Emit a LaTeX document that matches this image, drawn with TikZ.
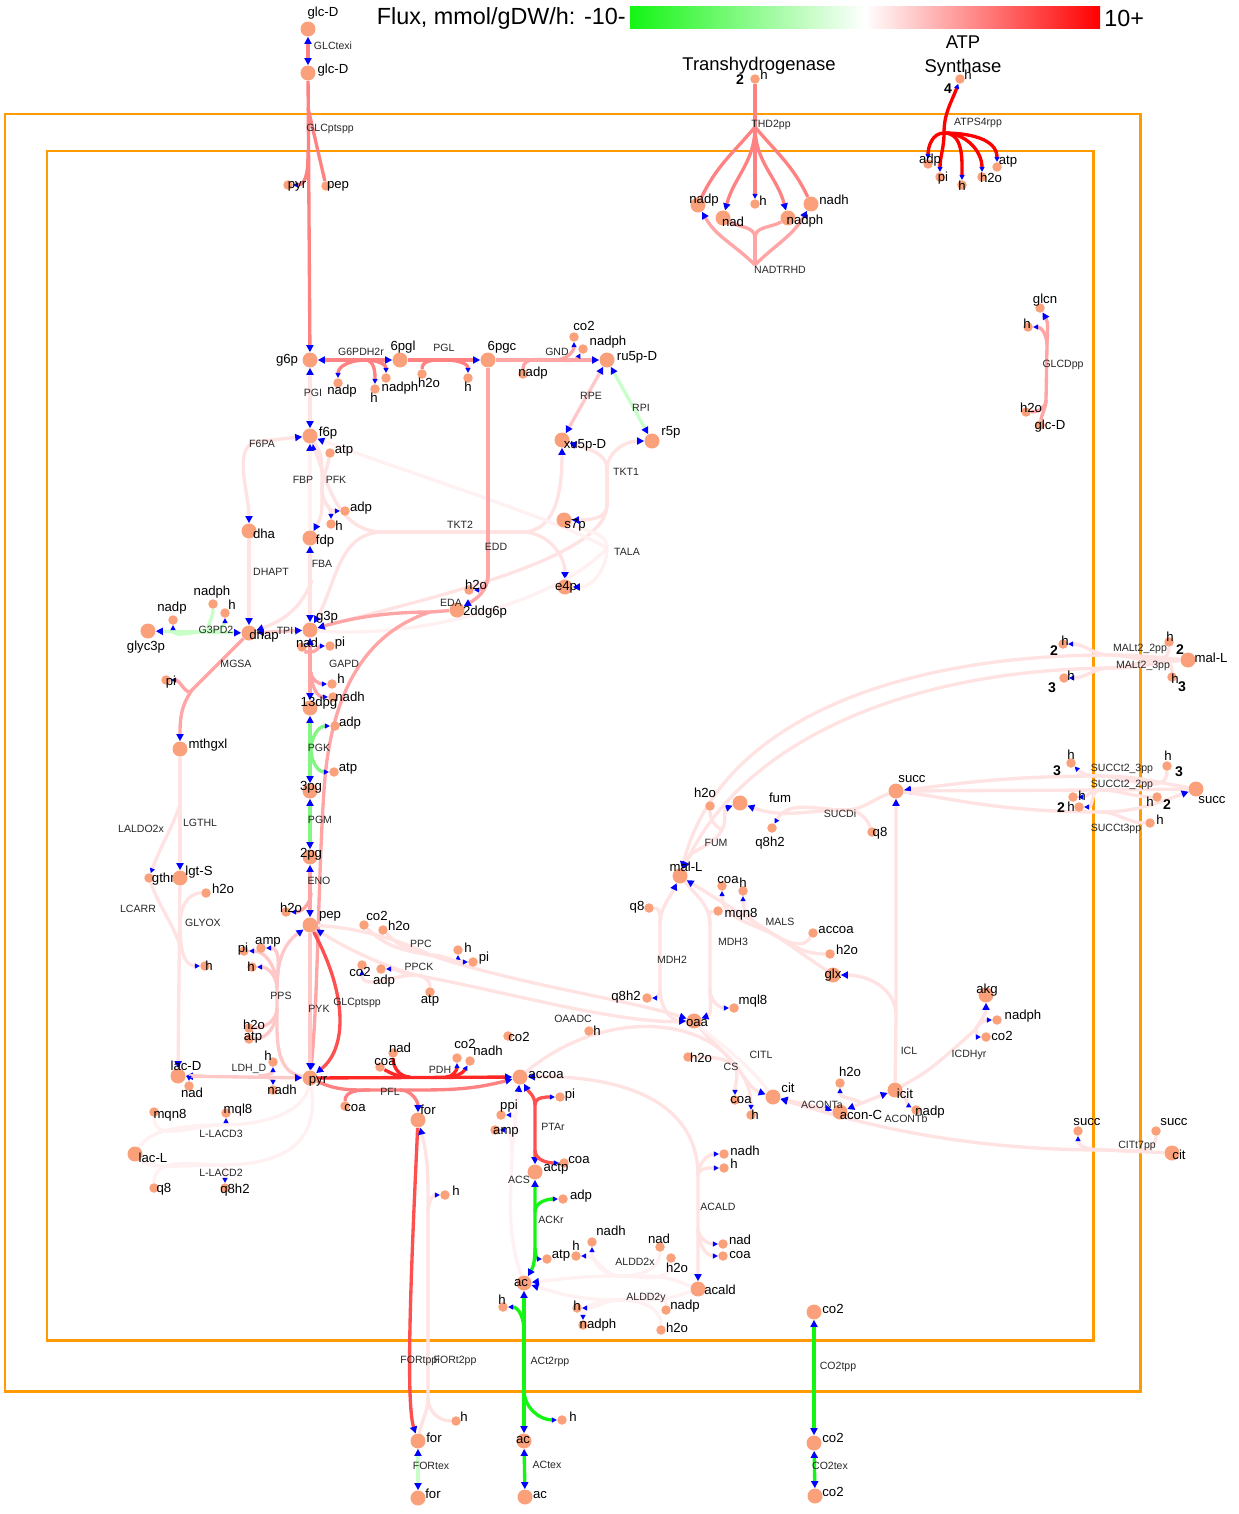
\documentclass[tikz,border=0pt]{standalone}
\usepackage{fontspec}
\setmainfont{Liberation Sans}
\usetikzlibrary{arrows.meta}

\definecolor{metc}{RGB}{250,160,122}
\definecolor{boxc}{RGB}{255,155,0}
\definecolor{fxA}{RGB}{255,0,0}
\definecolor{fxB}{RGB}{255,80,80}
\definecolor{fxC}{RGB}{255,130,130}
\definecolor{fxD}{RGB}{255,165,165}
\definecolor{fxE}{RGB}{255,200,200}
\definecolor{fxF}{RGB}{255,226,226}
\definecolor{fxG}{RGB}{255,241,241}
\definecolor{gxA}{RGB}{20,245,20}
\definecolor{gxB}{RGB}{130,245,130}
\definecolor{gxC}{RGB}{200,255,200}

\pgfdeclarelayer{boxes}
\pgfdeclarelayer{edges}
\pgfsetlayers{boxes,edges,main}

\tikzset{
  bigm/.style={circle,fill=metc,inner sep=0pt,minimum size=0.3cm},
  smallm/.style={circle,fill=metc,inner sep=0pt,minimum size=0.19cm},
  mlab/.style={inner sep=0pt,font=\fontsize{7.5}{8}\selectfont},
  rlab/.style={inner sep=0pt,text=black!85,font=\fontsize{6}{7}\selectfont},
  stoi/.style={inner sep=0pt,font=\fontsize{8}{9}\selectfont\bfseries},
  rx/.style={line width=1.9pt},
  sa/.style={-{Triangle[color=blue,length=2.8pt,width=2.8pt]}},
  >={Triangle[color=blue,length=4pt,width=4pt]},
}

% metabolite: name, circle position, text position, text
\newcommand{\bigmet}[4]{\node[bigm] (#1) at (#2) {}; \node[mlab] (#1-t) at (#3) {#4};}
\newcommand{\smet}[4]{\node[smallm] (#1) at (#2) {}; \node[mlab] (#1-t) at (#3) {#4};}
\newcommand{\rxnlab}[3]{\node[rlab] (r-#1) at (#2) {#3};}

\begin{document}
\begin{tikzpicture}[x=0.02cm,y=0.02cm]
    \useasboundingbox (0,0) rectangle (1239,-1514);
    % colour scale and titles
        \shade[left color=gxA,right color=fxA,middle color=white] (630,-7) rectangle (1100,-29);
        \node[anchor=east,inner sep=0pt,font=\fontsize{13.3}{15}\selectfont] (scale-lo) at (626,-18) {Flux, mmol/gDW/h: -10-};
        \node[anchor=west,inner sep=0pt,font=\fontsize{13.3}{15}\selectfont] (scale-hi) at (1104,-18) {10+};
        \node[inner sep=0pt,font=\fontsize{10.5}{12}\selectfont] (thd-title) at (759,-66) {Transhydrogenase};
        \node[inner sep=0pt,align=center,font=\fontsize{10.5}{13.6}\selectfont] (atp-title) at (963,-56) {ATP\\Synthase};
    % compartments
    \begin{pgfonlayer}{boxes}
        \draw[boxc,line width=1.7pt] (5,-114) rectangle (1140,-1391);
        \draw[boxc,line width=1.7pt] (47,-151) rectangle (1093,-1340);
    \end{pgfonlayer}

    % Below nodes are the metabolites.
        \bigmet{glce}{308,-29}{323,-13}{glc-D}
        \bigmet{glcp}{308,-73}{333,-70}{glc-D}
        \smet{pyrA}{288,-185}{297,-186}{pyr}
        \smet{pepA}{326,-186}{338,-186}{pep}
        \bigmet{g6p}{310,-360}{287,-360}{g6p}
        \smet{nadpA}{338,-383}{342,-391}{nadp}
        \smet{hA}{375,-389}{374,-398}{h}
        \smet{nadphA}{386,-378}{400,-388}{nadph}
        \bigmet{pgl}{400,-360}{403,-347}{6pgl}
        \smet{h2oA}{422,-374}{429,-383}{h2o}
        \smet{hB}{468,-378}{468,-387}{h}
        \bigmet{pgc}{488,-360}{502,-347}{6pgc}
        \smet{nadpB}{523,-374}{533,-373}{nadp}
        \smet{co2A}{574,-337}{584,-326}{co2}
        \smet{nadphB}{583,-349}{608,-342}{nadph}
        \bigmet{ru5p}{607,-360}{637,-357}{ru5p-D}
        \bigmet{xu5p}{562,-440}{585,-445}{xu5p-D}
        \bigmet{r5p}{652,-441}{671,-432}{r5p}
        \bigmet{s7p}{564,-520}{575,-525}{s7p}
        \bigmet{e4p}{565,-587}{566,-587}{e4p}
        \bigmet{f6p}{310,-436}{328,-433}{f6p}
        \smet{atpA}{330,-453}{344,-451}{atp}
        \smet{adpA}{345,-511}{361,-508}{adp}
        \smet{hC}{331,-524}{339,-526}{h}
        \bigmet{fdp}{310,-538}{325,-541}{fdp}
        \bigmet{dha}{249,-531}{264,-534}{dha}
        \bigmet{g3p}{310,-630}{327,-617}{g3p}
        \bigmet{dhap}{249,-633}{264,-636}{dhap}
        \smet{h2oB}{469,-590}{476,-585}{h2o}
        \bigmet{kdpg}{457,-610}{485,-612}{2ddg6p}
        \bigmet{glyc3p}{148,-631}{146,-647}{glyc3p}
        \smet{nadpC}{173,-620}{172,-608}{nadp}
        \smet{nadphC}{213,-604}{212,-592}{nadph}
        \smet{hD}{225,-613}{232,-605}{h}
        \smet{piA}{166,-680}{171,-682}{pi}
        \bigmet{mthgxl}{180,-749}{208,-745}{mthgxl}
        \smet{nadA}{302,-647}{307,-643}{nad}
        \smet{piB}{330,-646}{340,-643}{pi}
        \smet{hE}{332,-684}{341,-679}{h}
        \smet{nadhA}{333,-697}{350,-697}{nadh}
        \bigmet{dpg13}{310,-708}{319,-703}{13dpg}
        \smet{adpB}{335,-726}{350,-723}{adp}
        \smet{atpB}{334,-772}{348,-769}{atp}
        \bigmet{pg3}{310,-791}{311,-787}{3pg}
        \bigmet{pg2}{310,-857}{311,-854}{2pg}
        \smet{h2oC}{286,-912}{291,-908}{h2o}
        \bigmet{pep}{310,-925}{330,-916}{pep}
        \smet{co2B}{364,-925}{377,-916}{co2}
        \smet{h2oD}{383,-930}{399,-926}{h2o}
        \smet{hF}{458,-950}{468,-948}{h}
        \smet{piC}{473,-962}{484,-958}{pi}
        \smet{co2C}{362,-965}{360,-972}{co2}
        \smet{adpC}{381,-969}{384,-981}{adp}
        \smet{atpC}{430,-992}{430,-1001}{atp}
        \smet{piD}{244,-951}{243,-949}{pi}
        \smet{ampA}{261,-948}{268,-942}{amp}
        \smet{hG}{252,-967}{251,-967}{h}
        \smet{h2oE}{249,-1028}{254,-1025}{h2o}
        \smet{atpD}{249,-1039}{253,-1038}{atp}
        \bigmet{pyr}{310,-1078}{318,-1081}{pyr}
        \smet{hH}{273,-1062}{268,-1056}{h}
        \smet{nadB}{189,-1086}{192,-1093}{nad}
        \smet{nadhB}{273,-1090}{282,-1090}{nadh}
        \bigmet{lacD}{178,-1076}{186,-1066}{lac-D}
        \smet{gthrd}{149,-878}{167,-879}{gthrd}
        \bigmet{lgt}{180,-878}{199,-872}{lgt-S}
        \smet{h2oF}{206,-893}{223,-889}{h2o}
        \smet{hI}{205,-966}{209,-966}{h}
        \smet{mqn8A}{154,-1112}{170,-1115}{mqn8}
        \smet{mql8A}{226,-1113}{238,-1110}{mql8}
        \bigmet{lacL}{135,-1154}{153,-1158}{lac-L}
        \smet{q8A}{154,-1188}{164,-1189}{q8}
        \smet{q8h2A}{225,-1188}{235,-1190}{q8h2}
        \smet{nadC}{393,-1053}{400,-1048}{nad}
        \smet{coaA}{380,-1067}{385,-1062}{coa}
        \smet{co2D}{457,-1058}{465,-1044}{co2}
        \smet{nadhC}{470,-1061}{488,-1051}{nadh}
        \smet{coaB}{345,-1106}{355,-1108}{coa}
        \bigmet{for}{418,-1120}{428,-1110}{for}
        \bigmet{accoa}{520,-1077}{546,-1075}{accoa}
        \smet{co2E}{508,-1036}{519,-1037}{co2}
        \smet{hJ}{589,-1031}{597,-1031}{h}
        \smet{ppi}{501,-1115}{509,-1106}{ppi}
        \smet{ampB}{495,-1130}{506,-1132}{amp}
        \smet{piE}{560,-1097}{570,-1095}{pi}
        \smet{coaC}{564,-1163}{579,-1160}{coa}
        \bigmet{actp}{535,-1172}{556,-1169}{actp}
        \smet{adpD}{563,-1199}{581,-1196}{adp}
        \smet{atpE}{547,-1259}{561,-1256}{atp}
        \bigmet{ac}{524,-1283}{521,-1283}{ac}
        \smet{hK}{503,-1307}{502,-1300}{h}
        \smet{hL}{562,-1420}{573,-1417}{h}
        \bigmet{acp}{524,-1441}{523,-1440}{ac}
        \bigmet{ace}{525,-1497}{540,-1495}{ac}
        \smet{nadhD}{592,-1242}{611,-1231}{nadh}
        \smet{hM}{576,-1256}{576,-1246}{h}
        \smet{nadD}{660,-1247}{659,-1239}{nad}
        \smet{h2oG}{671,-1258}{677,-1268}{h2o}
        \smet{hN}{577,-1308}{577,-1306}{h}
        \smet{nadphD}{583,-1325}{598,-1325}{nadph}
        \smet{nadpD}{666,-1310}{685,-1306}{nadp}
        \smet{h2oH}{661,-1330}{677,-1328}{h2o}
        \bigmet{acald}{698,-1289}{720,-1290}{acald}
        \smet{nadhE}{724,-1154}{745,-1151}{nadh}
        \smet{hO}{724,-1168}{734,-1164}{h}
        \smet{nadE}{723,-1244}{740,-1240}{nad}
        \smet{coaD}{723,-1256}{740,-1255}{coa}
        \bigmet{co2c}{814,-1312}{833,-1309}{co2}
        \bigmet{co2p}{814,-1443}{833,-1438}{co2}
        \bigmet{co2e}{815,-1496}{833,-1492}{co2}
        \bigmet{forp}{418,-1441}{434,-1438}{for}
        \bigmet{fore}{418,-1498}{433,-1494}{for}
        \smet{hP}{456,-1421}{464,-1417}{h}
        \smet{hQ}{445,-1195}{456,-1191}{h}
        % TCA cycle
        \bigmet{oaa}{694,-1021}{697,-1023}{oaa}
        \smet{q8B}{649,-908}{637,-907}{q8}
        \smet{q8h2B}{647,-998}{626,-997}{q8h2}
        \smet{mqn8B}{718,-911}{741,-914}{mqn8}
        \smet{mql8B}{734,-1008}{753,-1001}{mql8}
        \bigmet{mal}{680,-876}{686,-867}{mal-L}
        \smet{coaE}{722,-886}{728,-880}{coa}
        \smet{hR}{743,-891}{743,-883}{h}
        \smet{accoaB}{813,-933}{836,-930}{accoa}
        \smet{h2oI}{830,-954}{847,-950}{h2o}
        \bigmet{glx}{833,-975}{833,-975}{glx}
        \smet{h2oJ}{710,-806}{705,-793}{h2o}
        \bigmet{fum}{740,-803}{780,-798}{fum}
        \smet{q8C}{872,-832}{880,-833}{q8}
        \smet{q8h2C}{772,-828}{770,-843}{q8h2}
        \bigmet{succ}{896,-791}{912,-779}{succ}
        \smet{h2oK}{688,-1057}{701,-1058}{h2o}
        \smet{coaF}{735,-1100}{741,-1100}{coa}
        \smet{hS}{751,-1115}{755,-1115}{h}
        \bigmet{cit}{773,-1097}{788,-1088}{cit}
        \smet{h2oL}{840,-1083}{850,-1072}{h2o}
        \bigmet{acon}{840,-1112}{861,-1115}{acon-C}
        \bigmet{icit}{895,-1090}{905,-1094}{icit}
        \smet{nadpE}{916,-1110}{930,-1112}{nadp}
        \smet{nadphE}{997,-1020}{1023,-1016}{nadph}
        \smet{co2F}{986,-1037}{1002,-1036}{co2}
        \bigmet{akg}{986,-995}{987,-990}{akg}
        % transport, right side
        \bigmet{male}{1188,-660}{1211,-658}{mal-L}
        \smet{hT}{1063,-644}{1065,-641}{h}
        \smet{hU}{1064,-678}{1071,-676}{h}
        \smet{hV}{1169,-642}{1170,-637}{h}
        \smet{hW}{1172,-677}{1175,-679}{h}
        \bigmet{succp}{1196,-789}{1212,-800}{succ}
        \smet{hX}{1071,-763}{1071,-755}{h}
        \smet{hY}{1073,-797}{1082,-796}{h}
        \smet{hZ}{1079,-807}{1071,-807}{h}
        \smet{hAA}{1157,-797}{1150,-802}{h}
        \smet{hAB}{1150,-823}{1160,-820}{h}
        \smet{hAC}{1167,-766}{1168,-756}{h}
        \bigmet{citp}{1172,-1153}{1179,-1155}{cit}
        \smet{succA}{1078,-1131}{1087,-1122}{succ}
        \smet{succB}{1156,-1131}{1174,-1122}{succ}
        \smet{glcn}{1040,-308}{1045,-300}{glcn}
        \smet{hGA}{1028,-327}{1027,-324}{h}
        \smet{h2oGA}{1026,-412}{1031,-408}{h2o}
        \smet{glcDp2}{1040,-425}{1050,-426}{glc-D}
        % transhydrogenase and ATP synthase
        \smet{hTH}{755,-79}{764,-75}{h}
        \bigmet{nadpT}{698,-205}{704,-200}{nadp}
        \bigmet{nadT}{723,-218}{733,-222}{nad}
        \smet{hTc}{755,-204}{763,-201}{h}
        \bigmet{nadphT}{788,-218}{805,-221}{nadph}
        \bigmet{nadhT}{811,-204}{834,-200}{nadh}
        \smet{hAS}{960,-79}{968,-75}{h}
        \smet{adpS}{928,-164}{930,-160}{adp}
        \smet{piS}{940,-177}{943,-178}{pi}
        \smet{hSc}{962,-185}{962,-186}{h}
        \smet{h2oS}{982,-177}{991,-178}{h2o}
        \smet{atpS}{997,-167}{1008,-162}{atp}

    % This draws the reactions.
    \begin{pgfonlayer}{edges}
        % exchange and PTS
        \draw[rx,fxC,<->] (glce) -- (glcp);
        \coordinate (ptsA) at (308,-108);
        \coordinate (ptsB) at (308,-150);
        \draw[rx,fxC,->] (glcp) -- (g6p);
        \draw[rx,fxC] (ptsA) -- (pepA);
        \draw[rx,fxC,sa] (ptsB) to[out=-90,in=0] (pyrA);
        % oxidative pentose phosphate
        \draw[rx,fxC,<->] (g6p) -- (pgl);
        \coordinate (g6pdh) at (365,-360);
        \draw[rx,fxC,sa] (g6pdh) to[out=180,in=90] (nadpA);
        \draw[rx,fxC,sa] (g6pdh) to[out=0,in=90] (hA);
        \draw[rx,fxC,sa] (g6pdh) to[out=0,in=90] (nadphA);
        \draw[rx,fxC,->] (pgl) -- (pgc);
        \coordinate (pglh) at (445,-360);
        \draw[rx,fxC] (pglh) to[out=180,in=90] (h2oA);
        \draw[rx,fxC,sa] (pglh) to[out=0,in=90] (hB);
        \draw[rx,fxD,->] (pgc) -- (ru5p);
        \coordinate (gnd) at (555,-360);
        \draw[rx,fxD] (gnd) to[out=180,in=90] (nadpB);
        \draw[rx,fxD,sa] (gnd) to[out=0,in=-90] (co2A);
        \draw[rx,fxD,sa] (gnd) to[out=0,in=-120] (nadphB);
        \draw[rx,fxE,<->] (ru5p) -- (xu5p);
        \draw[rx,gxC,<->] (ru5p) -- (r5p);
        % non-oxidative pentose phosphate
        \coordinate (tktA) at (607,-470);
        \coordinate (tktB) at (607,-505);
        \draw[rx,fxF,->] (tktA) to[out=90,in=180] (r5p);
        \draw[rx,fxF,->] (tktA) to[out=90,in=-20] (xu5p);
        \draw[rx,fxF] (tktA) -- (tktB);
        \draw[rx,fxF,->] (tktB) to[out=-90,in=0] (s7p);
        \draw[rx,fxF,->] (tktB) .. controls (607,-560) and (420,-600) .. (g3p);
        \coordinate (tktC) at (383,-532);
        \coordinate (tktD) at (522,-532);
        \draw[rx,fxF] (tktC) -- (tktD);
        \draw[rx,fxF,->] (tktD) to[out=0,in=-90] (xu5p);
        \draw[rx,fxF,->] (tktD) to[out=0,in=90] (e4p);
        \draw[rx,fxF,->] (tktC) to[out=180,in=-70] (f6p);
        \draw[rx,fxF,->] (tktC) to[out=180,in=60] (g3p);
        \coordinate (tala) at (607,-548);
        \draw[rx,fxG,->] (tala) to[out=-90,in=0] (e4p);
        \draw[rx,fxG] (tala) to[out=90,in=-30] (s7p);
        \draw[rx,fxG,->] (tala) .. controls (560,-520) and (400,-470) .. (f6p);
        \draw[rx,fxG] (tala) .. controls (560,-600) and (420,-640) .. (g3p);
        % Entner-Doudoroff
        \coordinate (edd) at (488,-575);
        \draw[rx,fxD] (pgc) -- (edd);
        \draw[rx,fxD,->] (edd) to[out=-90,in=30] (kdpg);
        \draw[rx,fxD,sa] (edd) to[out=-90,in=0] (h2oB);
        \coordinate (eda) at (430,-612);
        \draw[rx,fxD] (kdpg) -- (eda);
        \draw[rx,fxD,->] (eda) .. controls (380,-612) and (345,-620) .. (g3p);
        \draw[rx,fxD,->] (eda) .. controls (360,-635) and (330,-700) .. (324,-790) .. controls (318,-880) and (318,-1000) .. (pyr);
        % upper glycolysis
        \draw[rx,fxF,<->] (g6p) -- (f6p);
        \coordinate (pfk) at (322,-490);
        \draw[rx,fxF,->] (f6p) .. controls (322,-455) .. (pfk) .. controls (322,-515) .. (fdp);
        \draw[rx,fxF] (atpA) to[out=-100,in=90] (pfk);
        \draw[rx,fxF,sa] (pfk) to[out=-90,in=180] (adpA);
        \draw[rx,fxF,sa] (pfk) to[out=-90,in=90] (hC);
        \draw[rx,fxG,->] (fdp) -- (f6p);
        \coordinate (fba) at (312,-580);
        \draw[rx,fxF,<->] (fdp) -- (g3p);
        \draw[rx,fxF,->] (fba) to[out=-110,in=20] (dhap);
        \coordinate (f6pa) at (262,-441);
        \draw[rx,fxF,<->] (f6p) -- (f6pa) to[out=180,in=90] (dha);
        \draw[rx,fxF,->] (dha) -- (dhap);
        \draw[rx,fxE,<->] (dhap) -- (g3p);
        % glycerol-3-phosphate and methylglyoxal
        \coordinate (g3pd) at (208,-631);
        \draw[rx,gxC,<->] (dhap) -- (glyc3p);
        \draw[rx,gxC,sa] (g3pd) to[out=180,in=-90] (nadpC);
        \draw[rx,gxC] (g3pd) to[out=90,in=-90] (nadphC);
        \draw[rx,gxC,sa] (g3pd) to[out=0,in=-90] (hD);
        \coordinate (mgsa) at (192,-690);
        \draw[rx,fxD] (dhap) -- (mgsa);
        \draw[rx,fxD,->] (mgsa) to[out=-125,in=90] (mthgxl);
        \draw[rx,fxD,sa] (mgsa) to[out=-125,in=0] (piA);
        % lower glycolysis
        \coordinate (gapdA) at (311,-652);
        \coordinate (gapdB) at (311,-672);
        \draw[rx,fxD,<->] (g3p) -- (dpg13);
        \draw[rx,fxD] (nadA) to[out=-60,in=90] (gapdA);
        \draw[rx,fxD,sa] (gapdA) to[out=0,in=180] (piB);
        \draw[rx,fxD,sa] (gapdB) to[out=-90,in=180] (hE);
        \draw[rx,fxD,sa] (gapdB) to[out=-90,in=180] (nadhA);
        \coordinate (pgk) at (311,-750);
        \draw[rx,gxB,<->] (dpg13) -- (pg3);
        \draw[rx,gxB,sa] (pgk) to[out=90,in=180] (adpB);
        \draw[rx,gxB,sa] (pgk) to[out=-90,in=180] (atpB);
        \draw[rx,gxB,<->] (pg3) -- (pg2);
        \coordinate (eno) at (311,-893);
        \draw[rx,fxD,<->] (pg2) -- (pep);
        \draw[rx,fxD,sa] (eno) to[out=-90,in=0] (h2oC);
        \draw[rx,fxE,->] (pep) -- (pyr);
        \draw[rx,fxB,->] (pep) .. controls (350,-1000) and (345,-1050) .. (pyr);
        % PEP synthase
        \coordinate (ppsA) at (277,-988);
        \coordinate (ppsB) at (277,-1008);
        \draw[rx,fxE,->] (pyr) to[out=170,in=-90] (ppsB) -- (ppsA) to[out=90,in=-145] (pep);
        \draw[rx,fxE,sa] (ppsA) to[out=90,in=0] (ampA);
        \draw[rx,fxE,sa] (ppsA) to[out=90,in=0] (piD);
        \draw[rx,fxE,sa] (ppsA) to[out=90,in=0] (hG);
        \draw[rx,fxE] (h2oE) to[out=0,in=-90] (ppsB);
        \draw[rx,fxE] (atpD) to[out=0,in=-90] (ppsB);
        % anaplerotic reactions
        \coordinate (ppc) at (430,-955);
        \draw[rx,fxF] (pep) .. controls (360,-928) and (400,-940) .. (ppc);
        \draw[rx,fxF,->] (ppc) .. controls (520,-985) and (630,-1000) .. (oaa);
        \draw[rx,fxF] (co2B) to[out=-45,in=170] (ppc);
        \draw[rx,fxF] (h2oD) to[out=-45,in=170] (ppc);
        \draw[rx,fxF,sa] (ppc) to[out=0,in=-90] (hF);
        \draw[rx,fxF,sa] (ppc) to[out=0,in=180] (piC);
        \coordinate (ppck) at (415,-975);
        \draw[rx,fxF] (oaa) .. controls (620,-1025) and (500,-990) .. (ppck);
        \draw[rx,fxF,->] (ppck) .. controls (380,-965) and (340,-945) .. (pep);
        \draw[rx,fxF,sa] (ppck) to[out=180,in=-90] (co2C);
        \draw[rx,fxF,sa] (ppck) to[out=180,in=0] (adpC);
        \draw[rx,fxF] (atpC) to[out=90,in=0] (ppck);
        % lactate
        \coordinate (ldhA) at (202,-1076);
        \coordinate (ldhB) at (258,-1076);
        \draw[rx,fxE,<->] (lacD) -- (pyr);
        \draw[rx,fxE,sa] (ldhA) to[out=180,in=90] (nadB);
        \draw[rx,fxE,sa] (ldhB) to[out=0,in=-90] (hH);
        \draw[rx,fxE,sa] (ldhB) to[out=0,in=90] (nadhB);
        \coordinate (laldo) at (180,-805);
        \coordinate (lcarr) at (180,-945);
        \draw[rx,fxF,->] (mthgxl) -- (lgt);
        \draw[rx,fxF,sa] (laldo) to[out=-110,in=70] (gthrd);
        \draw[rx,fxF] (gthrd) to[out=-70,in=110] (lcarr);
        \coordinate (glyox) at (180,-925);
        \draw[rx,fxF,->] (lgt) -- (lacD);
        \draw[rx,fxF] (h2oF) to[out=180,in=90] (glyox);
        \draw[rx,fxF,sa] (glyox) to[out=-90,in=180] (hI);
        \coordinate (lacdA) at (221,-1125);
        \coordinate (lacdB) at (221,-1165);
        \draw[rx,fxG] (lacL) .. controls (150,-1130) and (180,-1125) .. (lacdA) .. controls (270,-1125) and (305,-1110) .. (pyr);
        \draw[rx,fxG] (lacL) .. controls (150,-1170) and (180,-1165) .. (lacdB) .. controls (300,-1165) and (318,-1130) .. (pyr);
        \draw[rx,fxG] (mqn8A) to[out=-90,in=180] (lacdA);
        \draw[rx,fxG,sa] (lacdA) to[out=0,in=-90] (mql8A);
        \draw[rx,fxG] (q8A) to[out=90,in=180] (lacdB);
        \draw[rx,fxG,sa] (lacdB) to[out=0,in=90] (q8h2A);
        % pyruvate dehydrogenase and formate lyase
        \coordinate (pdhA) at (410,-1077);
        \coordinate (pdhB) at (446,-1077);
        \draw[rx,fxA!85!white,->] (pyr) -- (accoa);
        \draw[rx,fxA!85!white] (coaA) to[out=-30,in=180] (pdhA);
        \draw[rx,fxA!85!white] (nadC) to[out=-90,in=180] (pdhA);
        \draw[rx,fxA!85!white,sa] (pdhB) to[out=0,in=-90] (co2D);
        \draw[rx,fxA!85!white,sa] (pdhB) to[out=0,in=-120] (nadhC);
        \coordinate (pflA) at (370,-1090);
        \coordinate (pflB) at (400,-1090);
        \draw[rx,fxC,->] (pyr) to[out=-25,in=180] (pflA) -- (pflB) to[out=0,in=-165] (accoa);
        \draw[rx,fxC] (pflA) to[out=180,in=90] (coaB);
        \draw[rx,fxC,->] (pflB) to[out=0,in=90] (for);
        % formate transport
        \draw[rx,fxB,->] (for) .. controls (412,-1250) and (405,-1400) .. (forp);
        \coordinate (fortA) at (428,-1212);
        \coordinate (fortB) at (428,-1398);
        \draw[rx,fxF,->] (forp) to[out=80,in=-90] (fortB) -- (fortA) to[out=90,in=-75] (for);
        \draw[rx,fxF,sa] (fortA) to[out=90,in=180] (hQ);
        \draw[rx,fxF] (hP) to[out=180,in=-90] (fortB);
        \draw[rx,gxC,<->] (forp) -- (fore);
        % acetate
        \coordinate (ptarA) at (535,-1105);
        \coordinate (ptarB) at (535,-1150);
        \draw[rx,fxB,<->] (accoa) to[out=-60,in=90] (ptarA) -- (actp);
        \draw[rx,fxB,sa] (ptarA) to[out=90,in=180] (piE);
        \draw[rx,fxB,sa] (ptarB) to[out=-90,in=180] (coaC);
        \coordinate (acs) at (512,-1150);
        \draw[rx,fxG,->] (ac) .. controls (505,-1230) and (512,-1190) .. (acs) -- (accoa);
        \draw[rx,fxG,sa] (acs) to[out=90,in=0] (ppi);
        \draw[rx,fxG,sa] (acs) to[out=90,in=0] (ampB);
        \coordinate (ackA) at (535,-1212);
        \coordinate (ackB) at (535,-1248);
        \draw[rx,gxA,<->] (actp) -- (ackA) -- (ackB) to[out=-90,in=60] (ac);
        \draw[rx,gxA,sa] (ackA) to[out=90,in=180] (adpD);
        \draw[rx,gxA,sa] (ackB) to[out=-90,in=180] (atpE);
        \coordinate (actA) at (524,-1330);
        \coordinate (actB) at (524,-1390);
        \draw[rx,gxA,<->] (ac) -- (acp);
        \draw[rx,gxA,sa] (actA) to[out=90,in=0] (hK);
        \draw[rx,gxA,sa] (actB) to[out=-90,in=180] (hL);
        \draw[rx,gxA,<->] (acp) -- (ace);
        % acetaldehyde
        \coordinate (alddx) at (620,-1276);
        \coordinate (alddy) at (620,-1300);
        \draw[rx,fxG,->] (acald) .. controls (665,-1276) .. (alddx) .. controls (575,-1276) and (555,-1280) .. (ac);
        \draw[rx,fxG,->] (acald) .. controls (665,-1300) .. (alddy) .. controls (575,-1300) and (555,-1292) .. (ac);
        \draw[rx,fxG] (nadD) to[out=-90,in=0] (alddx);
        \draw[rx,fxG] (h2oG) to[out=-90,in=0] (alddx);
        \draw[rx,fxG,sa] (alddx) to[out=180,in=-90] (nadhD);
        \draw[rx,fxG,sa] (alddx) to[out=180,in=0] (hM);
        \draw[rx,fxG] (nadpD) to[out=90,in=0] (alddy);
        \draw[rx,fxG] (h2oH) to[out=90,in=0] (alddy);
        \draw[rx,fxG,sa] (alddy) to[out=180,in=90] (nadphD);
        \draw[rx,fxG,sa] (alddy) to[out=180,in=0] (hN);
        \coordinate (acaldA) at (698,-1176);
        \coordinate (acaldB) at (698,-1228);
        \draw[rx,fxF,<->] (accoa) .. controls (620,-1075) and (698,-1100) .. (acaldA) -- (acaldB) -- (acald);
        \draw[rx,fxF,sa] (acaldA) to[out=90,in=180] (nadhE);
        \draw[rx,fxF,sa] (acaldA) to[out=90,in=180] (hO);
        \draw[rx,fxF,sa] (acaldB) to[out=-90,in=180] (nadE);
        \draw[rx,fxF,sa] (acaldB) to[out=-90,in=180] (coaD);
        \draw[rx,gxA,<->] (co2c) -- (co2p);
        \draw[rx,gxA,<->] (co2p) -- (co2e);
        % TCA cycle and glyoxylate shunt
        \coordinate (mdhA) at (660,-925);
        \coordinate (mdhB) at (660,-990);
        \draw[rx,fxF,<->] (mal) to[out=-115,in=90] (mdhA) -- (mdhB) to[out=-90,in=180] (oaa);
        \draw[rx,fxF] (q8B) to[out=0,in=90] (mdhA);
        \draw[rx,fxF,sa] (mdhB) to[out=-90,in=0] (q8h2B);
        \coordinate (mdh3A) at (710,-925);
        \coordinate (mdh3B) at (710,-990);
        \draw[rx,fxF,->] (mal) to[out=-50,in=90] (mdh3A) -- (mdh3B) to[out=-90,in=20] (oaa);
        \draw[rx,fxF] (mqn8B) to[out=180,in=90] (mdh3A);
        \draw[rx,fxF,sa] (mdh3B) to[out=-90,in=180] (mql8B);
        \coordinate (mals) at (778,-937);
        \draw[rx,fxF] (glx) -- (mals);
        \draw[rx,fxF,->] (mals) -- (mal);
        \draw[rx,fxF] (accoaB) to[out=-120,in=-30] (mals);
        \draw[rx,fxF] (h2oI) to[out=180,in=-30] (mals);
        \draw[rx,fxF,sa] (mals) to[out=150,in=-90] (coaE);
        \draw[rx,fxF,sa] (mals) to[out=150,in=-90] (hR);
        \coordinate (fumh) at (722,-830);
        \draw[rx,fxF,<->] (fum) to[out=200,in=60] (fumh) to[out=-120,in=70] (mal);
        \draw[rx,fxF] (h2oJ) to[out=-90,in=150] (fumh);
        \coordinate (sucdi) at (845,-810);
        \draw[rx,fxF,->] (succ) to[out=-160,in=0] (sucdi) to[out=180,in=-20] (fum);
        \draw[rx,fxF] (q8C) to[out=110,in=0] (sucdi);
        \draw[rx,fxF,sa] (sucdi) to[out=180,in=60] (q8h2C);
        \coordinate (cs) at (735,-1065);
        \draw[rx,fxF] (oaa) to[out=-50,in=130] (cs);
        \draw[rx,fxF,->] (cs) to[out=-50,in=160] (cit);
        \draw[rx,fxF] (accoa) .. controls (600,-1010) and (700,-1015) .. (cs);
        \draw[rx,fxF] (h2oK) to[out=0,in=150] (cs);
        \draw[rx,fxF,sa] (cs) to[out=-70,in=90] (coaF);
        \draw[rx,fxF,sa] (cs) to[out=-50,in=90] (hS);
        \draw[rx,fxG] (cit) .. controls (745,-1060) and (720,-1045) .. (oaa);
        \coordinate (acontb) at (862,-1103);
        \draw[rx,fxF,<->] (cit) -- (acon);
        \draw[rx,fxF,<->] (acon) -- (acontb) -- (icit);
        \draw[rx,fxF,sa] (acontb) to[out=150,in=-90] (h2oL);
        \coordinate (icl) at (896,-1015);
        \draw[rx,fxF,->] (icit) -- (icl) -- (succ);
        \draw[rx,fxF,->] (icl) to[out=90,in=0] (glx);
        \coordinate (icdh) at (975,-1030);
        \draw[rx,fxF,->] (icit) .. controls (930,-1070) .. (icdh) to[out=60,in=-90] (akg);
        \draw[rx,fxF,sa] (icit) to[out=-30,in=150] (nadpE);
        \draw[rx,fxF,sa] (icdh) to[out=60,in=180] (nadphE);
        \draw[rx,fxF,sa] (icdh) to[out=60,in=180] (co2F);
        % transport across the membranes
        \coordinate (malA) at (1110,-655);
        \coordinate (malB) at (1110,-668);
        \draw[rx,fxF,->] (male) to[out=175,in=0] (malA) .. controls (900,-655) and (720,-720) .. (mal);
        \draw[rx,fxF,->] (male) to[out=185,in=0] (malB) .. controls (900,-670) and (740,-745) .. (mal);
        \draw[rx,fxF] (hV) to[out=-90,in=0] (malA);
        \draw[rx,fxF,sa] (malA) to[out=180,in=0] (hT);
        \draw[rx,fxF] (hW) to[out=90,in=0] (malB);
        \draw[rx,fxF,sa] (malB) to[out=180,in=0] (hU);
        \coordinate (scA) at (1100,-776);
        \coordinate (scB) at (1100,-790);
        \coordinate (scC) at (1100,-812);
        \draw[rx,fxF,->] (succp) to[out=170,in=0] (scA) .. controls (1000,-776) and (950,-785) .. (succ);
        \draw[rx,fxF,->] (succp) -- (scB) -- (succ);
        \draw[rx,fxF,<-] (succp) to[out=-160,in=0] (scC) .. controls (1000,-812) and (950,-798) .. (succ);
        \draw[rx,fxF] (hAC) to[out=-90,in=0] (scA);
        \draw[rx,fxF,sa] (scA) to[out=180,in=-45] (hX);
        \draw[rx,fxF] (hAA) to[out=180,in=0] (scB);
        \draw[rx,fxF,sa] (scB) to[out=180,in=0] (hY);
        \draw[rx,fxF,sa] (scB) to[out=180,in=0] (hZ);
        \draw[rx,fxF] (scC) to[out=0,in=180] (hAB);
        \coordinate (citt) at (1105,-1150);
        \draw[rx,fxF,->] (citp) -- (citt) .. controls (950,-1150) and (850,-1120) .. (cit);
        \draw[rx,fxF,sa] (citt) to[out=180,in=-90] (succA);
        \draw[rx,fxF] (succB) to[out=-90,in=0] (citt);
        \coordinate (glcdA) at (1046,-400);
        \coordinate (glcdB) at (1047,-345);
        \draw[rx,fxD,->] (glcDp2) to[out=80,in=-90] (glcdA) -- (glcdB) to[out=90,in=-60] (glcn);
        \draw[rx,fxD] (h2oGA) to[out=0,in=-90] (glcdA);
        \draw[rx,fxD,sa] (glcdB) to[out=90,in=0] (hGA);
        % transhydrogenases
        \coordinate (thd) at (755,-127);
        \draw[rx,fxC] (hTH) -- (thd);
        \draw[rx,fxC] (thd) to[out=-130,in=65] (nadpT);
        \draw[rx,fxC,->] (thd) to[out=-90,in=75] (nadT);
        \draw[rx,fxC,sa] (thd) -- (hTc);
        \draw[rx,fxC,->] (thd) to[out=-90,in=105] (nadphT);
        \draw[rx,fxC] (thd) to[out=-50,in=115] (nadhT);
        \coordinate (ntr) at (755,-265);
        \coordinate (ntrB) at (755,-238);
        \draw[rx,fxD,->] (ntr) to[out=135,in=-60] (nadpT);
        \draw[rx,fxD] (ntr) -- (ntrB);
        \draw[rx,fxD] (ntrB) to[out=90,in=-30] (nadT);
        \draw[rx,fxD] (ntrB) to[out=90,in=-150] (nadphT);
        \draw[rx,fxD,->] (ntr) to[out=45,in=-120] (nadhT);
        % ATP synthase
        \coordinate (atps) at (944,-133);
        \draw[rx,fxA,sa] (atps) to[out=90,in=-110] (hAS);
        \draw[rx,fxA,sa] (atps) to[out=180,in=90] (adpS);
        \draw[rx,fxA,sa] (atps) to[out=-90,in=90] (piS);
        \draw[rx,fxA,sa] (atps) to[out=0,in=90] (hSc);
        \draw[rx,fxA,sa] (atps) to[out=0,in=90] (h2oS);
        \draw[rx,fxA,sa] (atps) to[out=0,in=90] (atpS);
    \end{pgfonlayer}

    % Below nodes are the reaction labels.
        \rxnlab{GLCtexi}{333,-46}{GLCtexi}
        \rxnlab{GLCptspp}{330,-129}{GLCptspp}
        \rxnlab{G6PDH2r}{361,-352}{G6PDH2r}
        \rxnlab{PGL}{444,-348}{PGL}
        \rxnlab{GND}{557,-352}{GND}
        \rxnlab{RPE}{591,-396}{RPE}
        \rxnlab{RPI}{641,-408}{RPI}
        \rxnlab{TKT1}{626,-472}{TKT1}
        \rxnlab{TKT2}{460,-525}{TKT2}
        \rxnlab{TALA}{627,-552}{TALA}
        \rxnlab{EDD}{496,-547}{EDD}
        \rxnlab{EDA}{451,-603}{EDA}
        \rxnlab{PGI}{313,-393}{PGI}
        \rxnlab{F6PA}{262,-444}{F6PA}
        \rxnlab{FBP}{303,-480}{FBP}
        \rxnlab{PFK}{336,-480}{PFK}
        \rxnlab{FBA}{322,-564}{FBA}
        \rxnlab{DHAPT}{271,-572}{DHAPT}
        \rxnlab{TPI}{285,-631}{TPI}
        \rxnlab{G3PD2}{216,-630}{G3PD2}
        \rxnlab{MGSA}{236,-664}{MGSA}
        \rxnlab{GAPD}{344,-664}{GAPD}
        \rxnlab{PGK}{319,-748}{PGK}
        \rxnlab{PGM}{320,-820}{PGM}
        \rxnlab{ENO}{319,-881}{ENO}
        \rxnlab{PYK}{319,-1009}{PYK}
        \rxnlab{GLCptsppB}{357,-1003}{GLCptspp}
        \rxnlab{PPS}{281,-996}{PPS}
        \rxnlab{PPC}{421,-944}{PPC}
        \rxnlab{PPCK}{419,-967}{PPCK}
        \rxnlab{LDHD}{249,-1069}{LDH\_D}
        \rxnlab{LGTHL}{200,-823}{LGTHL}
        \rxnlab{LALDO2x}{141,-829}{LALDO2x}
        \rxnlab{LCARR}{138,-909}{LCARR}
        \rxnlab{GLYOX}{203,-923}{GLYOX}
        \rxnlab{LLACD3}{221,-1134}{L-LACD3}
        \rxnlab{LLACD2}{221,-1173}{L-LACD2}
        \rxnlab{PDH}{440,-1070}{PDH}
        \rxnlab{PFL}{390,-1092}{PFL}
        \rxnlab{OAADC}{573,-1019}{OAADC}
        \rxnlab{PTAr}{553,-1127}{PTAr}
        \rxnlab{ACS}{519,-1180}{ACS}
        \rxnlab{ACKr}{551,-1220}{ACKr}
        \rxnlab{ACt2rpp}{550,-1362}{ACt2rpp}
        \rxnlab{ACtex}{547,-1465}{ACtex}
        \rxnlab{ALDD2x}{635,-1262}{ALDD2x}
        \rxnlab{ALDD2y}{646,-1298}{ALDD2y}
        \rxnlab{ACALD}{718,-1207}{ACALD}
        \rxnlab{CO2tpp}{838,-1367}{CO2tpp}
        \rxnlab{CO2tex}{830,-1466}{CO2tex}
        \rxnlab{FORtex}{431,-1466}{FORtex}
        \rxnlab{FORtppi}{420,-1361}{FORtppi}
        \rxnlab{FORt2pp}{455,-1361}{FORt2pp}
        \rxnlab{MDH2}{672,-960}{MDH2}
        \rxnlab{MDH3}{733,-942}{MDH3}
        \rxnlab{MALS}{780,-922}{MALS}
        \rxnlab{FUM}{716,-843}{FUM}
        \rxnlab{SUCDi}{840,-814}{SUCDi}
        \rxnlab{CS}{731,-1067}{CS}
        \rxnlab{CITL}{761,-1055}{CITL}
        \rxnlab{ACONTa}{822,-1105}{ACONTa}
        \rxnlab{ACONTb}{906,-1119}{ACONTb}
        \rxnlab{ICL}{909,-1051}{ICL}
        \rxnlab{ICDHyr}{969,-1055}{ICDHyr}
        \rxnlab{MALt22}{1140,-649}{MALt2\_2pp}
        \rxnlab{MALt23}{1143,-666}{MALt2\_3pp}
        \rxnlab{SUCCt23}{1122,-769}{SUCCt2\_3pp}
        \rxnlab{SUCCt22}{1122,-785}{SUCCt2\_2pp}
        \rxnlab{SUCCt3}{1116,-829}{SUCCt3pp}
        \rxnlab{CITt7}{1137,-1146}{CITt7pp}
        \rxnlab{GLCDpp}{1063,-365}{GLCDpp}
        \rxnlab{THD2pp}{771,-125}{THD2pp}
        \rxnlab{NADTRHD}{780,-270}{NADTRHD}
        \rxnlab{ATPS4rpp}{978,-123}{ATPS4rpp}
    % stoichiometric coefficients
        \node[stoi] (n2a) at (740,-80) {2};
        \node[stoi] (n4a) at (948,-89) {4};
        \node[stoi] (n2b) at (1054,-651) {2};
        \node[stoi] (n3a) at (1052,-688) {3};
        \node[stoi] (n2c) at (1180,-650) {2};
        \node[stoi] (n3b) at (1182,-687) {3};
        \node[stoi] (n3c) at (1057,-771) {3};
        \node[stoi] (n2d) at (1061,-808) {2};
        \node[stoi] (n2e) at (1167,-805) {2};
        \node[stoi] (n3d) at (1179,-772) {3};
\end{tikzpicture}
\end{document}
